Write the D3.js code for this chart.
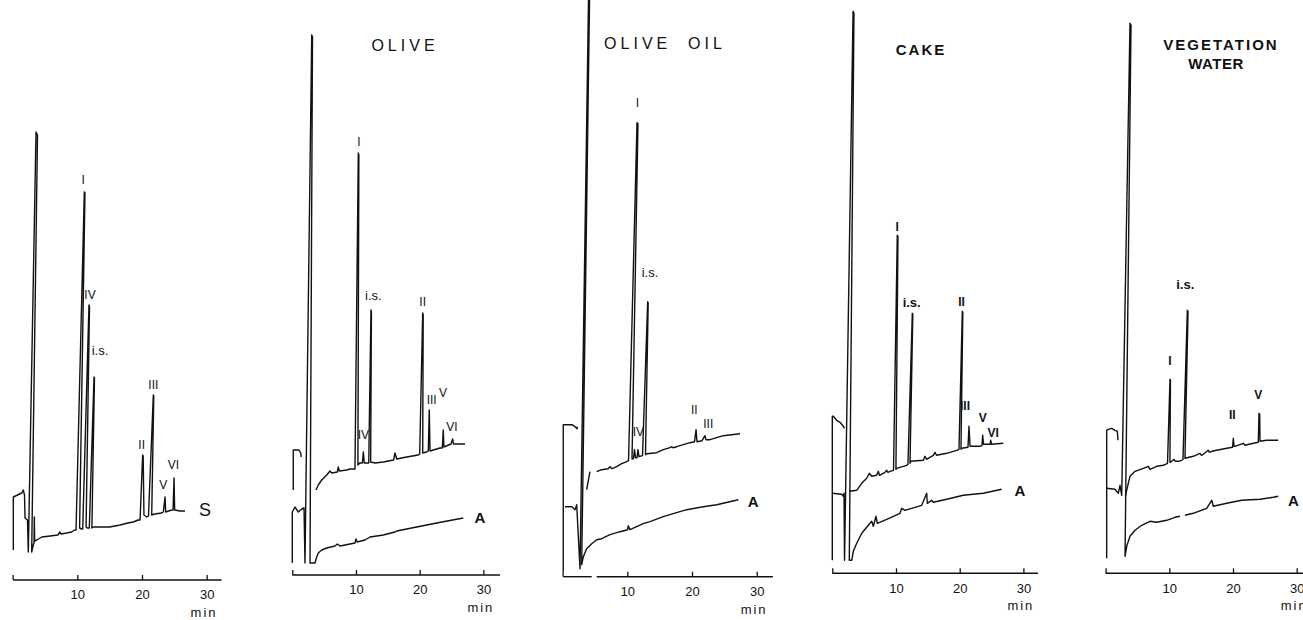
<!DOCTYPE html>
<html lang="en">
<head>
<meta charset="UTF-8">
<title>HPLC traces - olive, oil, cake, vegetation water</title>
<script src="https://d3js.org/d3.v7.min.js"></script>
<style>
  body{ margin:0; background:#fff; }
  svg{ display:block; background:#fff; font-family:"Liberation Sans", Arial, sans-serif; }
  path.trace{ fill:none; stroke:#111; stroke-width:1.4px; stroke-linejoin:round; }
  line.axisline{ stroke:#111; stroke-width:1.4px; }
  .tick line{ stroke:#111; stroke-width:1.3px; }
  .tick text{ font-size:13px; fill:#111; }
  text{ fill:#111; }
  text.peak{ font-size:12px; }
  text.tag{ font-size:17px; }
</style>
</head>
<body>
<svg id="canvas" width="1303" height="620"></svg>
<script>
// traces: [time (min), detector response], null = pen lift
const standardTrace = [
  [0.1,30],[0.1,83],[1.4,87],[1.64,90],[1.83,85],[1.91,62],[2.29,60],[2.42,28],
  [3.61,448],[3.84,445],[2.94,28],[3.19,35],[3.3,37],[3.35,63],[3.4,39],[3.72,40],
  [4.5,43],[5.8,44],[7.0,45],[7.3,48],[7.47,46],[8.35,47],[9.1,48],[9.6,50],
  [9.8,50],[11.08,388],[11.18,387],[10.35,52],[10.67,51],
  [10.83,51],[11.8,275],[11.88,273],[11.35,53],[11.55,52],
  [11.85,52],[12.58,203],[12.65,202],[12.25,52],[12.5,53],
  [15,53],[16.6,55],[17.8,57],[18.65,58],[19.4,60],
  [19.7,60],[20.1,125],[20.18,124],[20.3,65],[20.73,63],
  [21.0,64],[21.75,185],[21.82,184],[21.5,65],[21.93,66],[23.04,67],
  [23.3,68],[23.56,83],[23.66,68],[24.33,69.5],
  [24.8,70],[24.95,102],[25.05,70],[25.87,69],[26.65,69]
];

const oliveTrace = [
  [0.15,85],[0.15,125],[1.05,125],[1.32,122],[1.4,118], null,
  [3.72,85],[4.08,90],[4.62,95],[5.4,100],[5.92,104],[6.19,102],[7.06,103],[7.22,108],[7.38,104],[8.54,105],[9.06,106],[9.84,106],
  [10.36,422],[10.45,420],[10.3,110],[10.6,112],[11.0,112],[11.15,123],[11.3,112],[12.0,112],
  [12.35,265],[12.42,263],[12.3,113],[12.98,112],[14.29,113],[15.07,114],[15.9,115],[16.12,122],[16.39,116],[17.96,118],[19.78,120],[20.0,121],
  [20.47,262],[20.55,260],[20.47,122],[21.1,123],[21.35,124],
  [21.5,165],[21.62,124],[23.19,127],[23.55,127],
  [23.7,145],[23.8,128],[24.9,131],
  [25.18,136],[25.3,131],[26.5,131],[27.11,131]
];
const oliveBlank = [
  [0,12],[0,63],[0.42,68],[0.94,63],[1.48,66],[1.84,67],[1.99,12],
  [3.05,540],[3.17,538],[2.78,12],[3.56,12],[3.83,18],[4.08,22],[4.62,25],[5.4,27],[6.7,29],[7.06,31],[7.49,29],
  [9.06,31],[9.84,32],[10.0,36],[10.2,33],[11.41,35],[12.2,38],[14.29,40],[16.12,43],[16.39,44],[19.53,48],[22.67,52],[26.84,57]
];

const oilTrace = [
  [0.1,5],[0.1,152],[1.45,152],[1.92,150],[2.23,148],[2.3,150], null,
  [3.72,87],[4.23,105], null,
  [5.27,105],[6.04,107],[7.02,108],[7.33,110],[7.64,108],[8.36,110],[9.13,113],[9.91,115],[10.19,116],
  [11.5,454],[11.65,453],[10.73,118],[10.96,118],[11.11,127],[11.27,119],[11.5,119],[11.65,127],[11.81,120],[12.35,121],
  [13.15,275],[13.23,274],[12.81,122],[13.0,123],[14.54,124],[15.56,127],[16.6,129],[16.86,130],[17.06,129],[17.64,130],[19.69,134],[20.39,135],
  [20.63,147],[20.77,135],[21.55,136],
  [22.01,141],[22.16,137],[22.78,137],[24.84,141],[27.42,143]
];
const oilBlank = [
  [0.37,70],[1.45,70],[1.92,67],[2.18,72],[2.69,8],[4.15,640],[4.3,640],[2.95,12],[3.2,20],[3.72,28],[4.5,33],[5.27,37],[6.04,38],
  [7.33,42],[8.87,45],[10.06,47],[10.15,51],[10.42,47],[12.47,53],[13.5,55],[15.56,60],[17.11,63],[19.18,67],[21.75,70],[23.82,72],[27.16,77]
];

const cakeTrace = [
  [0,13],[0,157],[0.16,157],[0.69,153],[1.21,151],[1.73,147],[1.9,145], null,
  [2.7,82],[3.83,83],[4.62,90],[5.4,95],[5.81,100],[6.19,97],[6.97,98],[7.22,102],[7.41,98],[8.27,101],[8.54,103],[8.74,101],[9.06,102],[9.61,103],
  [10.2,338],[10.31,337],[9.99,104],[10.1,105],[11.15,107],[11.68,108],[11.88,109],
  [12.56,260],[12.64,259],[12.2,110],[12.31,112],[14.29,113],[14.55,117],[14.79,114],[15.86,118],[16.12,121],[16.36,118],[17.96,120],[19.53,123],[19.89,124],
  [20.41,262],[20.49,261],[20.2,124],[20.31,125],[21.3,126],
  [21.46,147],[21.62,127],[23.19,127],[23.5,128],
  [23.61,138],[23.74,129],[24.24,129],[24.76,129],
  [24.87,133],[25.0,129],[26.84,130]
];
const cakeBlank = [
  [0,80],[1.48,79],[1.73,77],[1.84,80],[1.92,13],[3.26,562],[3.4,560],[2.67,13],[3.05,13],[3.3,22],[3.83,30],[4.62,40],[5.65,48],
  [6.19,52],[6.44,47],[6.86,57],[7.06,50],[8.54,54],[10.63,60],[10.9,65],[11.41,63],[14.03,68],[14.82,80],[14.91,70],[15.6,73],[15.86,71],
  [17.96,74],[20.57,78],[23.7,80],[26.59,84]
];

const waterTrace = [
  [0.17,15],[0.17,143],[0.42,144],[0.96,145],[1.48,143],[1.84,142],[1.95,133], null,
  [3.1,77],[3.56,90],[3.83,97],[4.62,102],[5.92,105],[6.7,107],[6.97,104],[8.02,107],[9.06,108],[9.72,110],
  [10.11,194],[10.18,193],[10.1,111],[10.38,112],[10.74,114],[10.97,112],[11.41,112],[11.95,113],[12.15,114],
  [12.83,263],[12.94,262],[12.46,115],[13.77,117],[14.82,120],[15.05,118],[15.34,119],[16.12,123],[16.31,121],[16.66,122],[19.01,125],[19.93,126],
  [20.05,135],[20.16,127],[20.31,127],[21.62,130],[21.88,128],[23.19,130],[23.97,131],
  [24.08,160],[24.19,159],[24.24,132],[25.29,133],[27.11,133]
];
const waterBlank = [
  [0.17,85],[1.48,84],[2.0,80],[2.26,88],[2.53,78],[3.83,550],[3.99,548],[3.05,17],[3.31,27],[3.83,37],[4.62,43],[5.67,48],
  [6.97,52],[8.02,51],[9.59,53],[10.89,56],[11.68,57], null,
  [12.46,58],[13.77,60],[15.87,65],[16.66,73],[16.91,67],[19.01,70],[21.37,73],[24.24,74],[26.33,76],[27.11,77]
];

// peak labels: [text, time, response]
const standardLabels = [["I",10.92,400],["IV",11.96,285],["i.s.",13.5,230],["III",21.75,195],["II",19.95,135],["V",23.3,95],["VI",24.84,115]];
const oliveLabels = [["I",10.47,433],["i.s.",12.72,280],["II",20.47,273],["V",23.66,182],["III",21.88,175],["VI",25.07,148],["IV",11.15,140]];
const oilLabels = [["I",11.55,474],["i.s.",13.51,304],["IV",11.7,145],["II",20.36,167],["III",22.52,153]];
const cakeLabels = [["I",10.2,346],["i.s.",12.46,271],["II",20.3,271],["III",20.84,167],["V",23.61,155],["VI",25.27,140]];
const waterLabels = [["I",10.11,212],["i.s.",12.5,289],["II",19.89,158],["V",23.97,178]];

// trace tags (S = standards, A = blank)
const standardTags = [["S",29.74,70]];
const oliveTags = [["A",29.47,58]];
const oilTags = [["A",29.47,75]];
const cakeTags = [["A",29.47,83]];
const waterTags = [["A",29.47,73]];

// time axis
const tickValues = [0,10,20,30];
const standardSpans = [[0.1,32.3]];
const oliveSpans = [[0,32.6]];
const oilSpans = [[0.1,4.5],[5.27,32.5]];
const cakeSpans = [[0,32.3]];
const waterSpans = [[0,32]];

const panels = [
  {traces:[standardTrace], labels:standardLabels, tags:standardTags, spans:standardSpans,
   x0:12.67, ppm:6.467, axisY:580, bold:false, titles:[]},
  {traces:[oliveTrace, oliveBlank], labels:oliveLabels, tags:oliveTags, spans:oliveSpans,
   x0:292.3, ppm:6.37, axisY:575, bold:false,
   titles:[{text:"OLIVE", cx:405, cy:45, size:16, spacing:4, weight:"normal"}]},
  {traces:[oilTrace, oilBlank], labels:oilLabels, tags:oilTags, spans:oilSpans,
   x0:562.6, ppm:6.47, axisY:576.7, bold:false,
   titles:[{text:"OLIVE  OIL", cx:665, cy:43, size:16, spacing:4, weight:"normal"}]},
  {traces:[cakeTrace, cakeBlank], labels:cakeLabels, tags:cakeTags, spans:cakeSpans,
   x0:832.3, ppm:6.37, axisY:573.3, bold:true,
   titles:[{text:"CAKE", cx:921, cy:49, size:15, spacing:2, weight:"bold"}]},
  {traces:[waterTrace, waterBlank], labels:waterLabels, tags:waterTags, spans:waterSpans,
   x0:1105.6, ppm:6.37, axisY:573.3, bold:true,
   titles:[{text:"VEGETATION", cx:1221, cy:44, size:15, spacing:2, weight:"bold"},
           {text:"WATER", cx:1216, cy:63, size:15, spacing:0.5, weight:"bold"}]}
];

let svg = d3.select('#canvas');

panels.forEach(function(p){
  let x = d3.scaleLinear().domain([0,30]).range([p.x0, p.x0 + 30*p.ppm]);
  let y = d3.scaleLinear().domain([0,600]).range([p.axisY, p.axisY - 600]);
  let g = svg.append('g');

  let line = d3.line()
    .defined(d => d !== null)
    .x(d => x(d[0]))
    .y(d => y(d[1]));

  g.selectAll('path.trace')
    .data(p.traces)
    .join('path')
    .attr('class','trace')
    .attr('d', line);

  // axis: ticks pointing up, labels under the line
  let ax = g.append('g')
    .attr('transform', 'translate(0,' + p.axisY + ')')
    .call(d3.axisBottom(x)
      .tickValues(tickValues)
      .tickSizeInner(-5)
      .tickSizeOuter(0)
      .tickPadding(10)
      .tickFormat(d => d === 0 ? '' : d));
  ax.select('.domain').remove();
  ax.selectAll('.tick text').attr('font-family', null).attr('font-size', null).attr('fill', null);

  g.selectAll('line.axisline')
    .data(p.spans)
    .join('line')
    .attr('class','axisline')
    .attr('x1', d => x(d[0]))
    .attr('x2', d => x(d[1]))
    .attr('y1', p.axisY)
    .attr('y2', p.axisY);

  g.append('text')
    .attr('x', x(29.6))
    .attr('y', p.axisY + 37)
    .attr('text-anchor','middle')
    .style('font-size','13px')
    .style('letter-spacing','2px')
    .text('min');

  g.selectAll('text.peak')
    .data(p.labels)
    .join('text')
    .attr('class','peak')
    .attr('x', d => x(d[1]))
    .attr('y', d => y(d[2]))
    .attr('text-anchor','middle')
    .attr('dominant-baseline','central')
    .style('font-weight', p.bold ? 'bold' : 'normal')
    .style('font-size', d => d[0] === 'i.s.' ? '13px' : '12px')
    .text(d => d[0]);

  g.selectAll('text.tag')
    .data(p.tags)
    .join('text')
    .attr('class','tag')
    .attr('x', d => x(d[1]))
    .attr('y', d => y(d[2]))
    .attr('text-anchor','middle')
    .attr('dominant-baseline','central')
    .style('font-weight', d => d[0] === 'A' ? 'bold' : 'normal')
    .style('font-size', d => d[0] === 'A' ? '15px' : '18px')
    .text(d => d[0]);

  g.selectAll('text.title')
    .data(p.titles)
    .join('text')
    .attr('class','title')
    .attr('x', d => d.cx)
    .attr('y', d => d.cy)
    .attr('text-anchor','middle')
    .attr('dominant-baseline','central')
    .style('font-size', d => d.size + 'px')
    .style('letter-spacing', d => d.spacing + 'px')
    .style('font-weight', d => d.weight)
    .style('white-space','pre')
    .text(d => d.text);
});
</script>
</body>
</html>
